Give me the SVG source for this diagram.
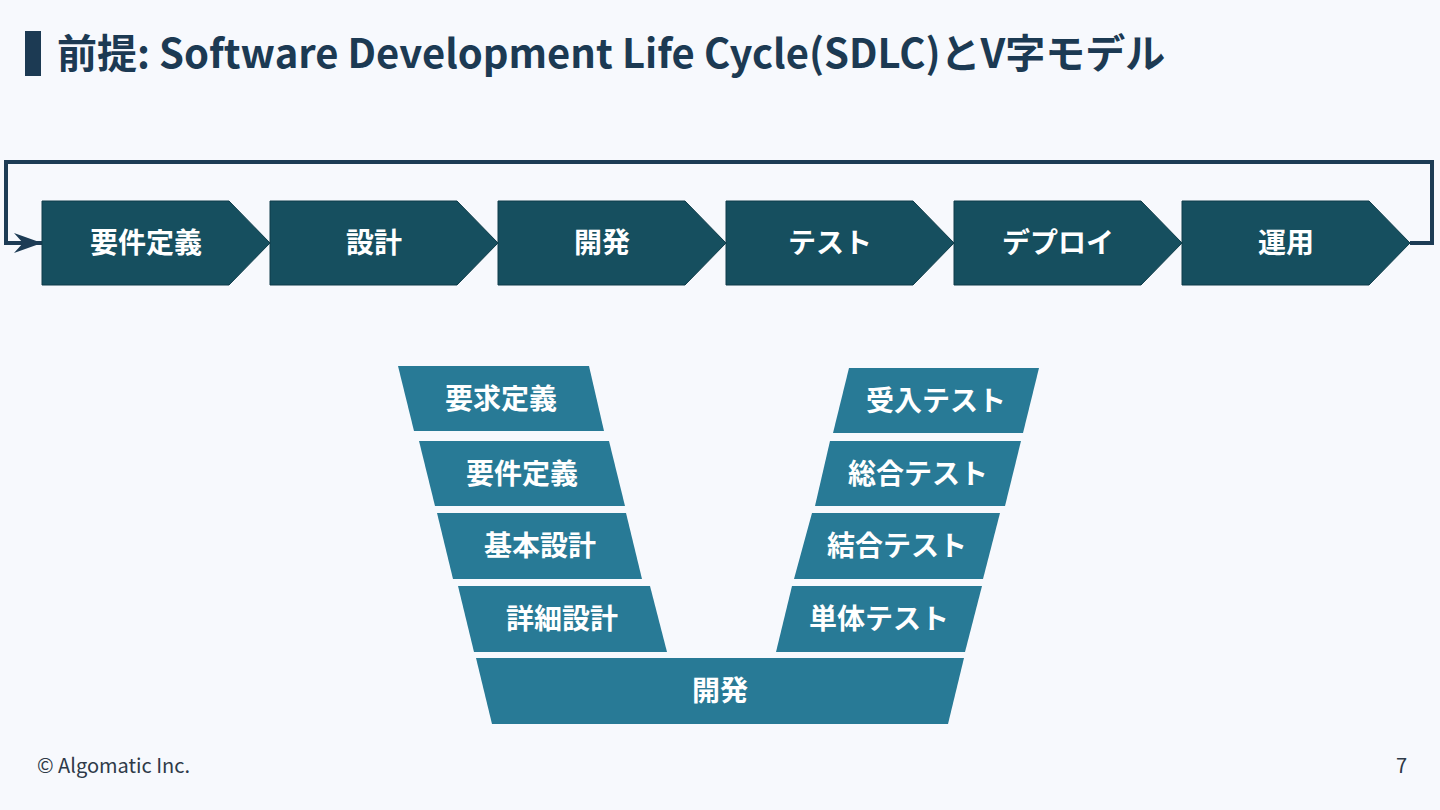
<svg xmlns="http://www.w3.org/2000/svg" width="1440" height="810" viewBox="0 0 1440 810">
<defs>
<style>
.bg{fill:#f7f9fd}
.title{font-family:"Noto Sans CJK JP","Noto Sans",sans-serif;font-weight:700;font-size:40px;fill:#1c3a53}
.chev{fill:#164f5f;stroke:#0f3d4a;stroke-width:1}
.blk{fill:#287a96}
.lbl{font-family:"Noto Sans CJK JP","Noto Sans",sans-serif;font-weight:700;font-size:28px;fill:#ffffff;text-anchor:middle}
.foot{font-family:"Noto Sans CJK JP","Noto Sans",sans-serif;font-size:20px;fill:#2e3a48}
.conn{fill:none;stroke:#1d3c55;stroke-width:4;stroke-linejoin:miter}
</style>
<marker id="arr" markerUnits="userSpaceOnUse" markerWidth="30" markerHeight="22" refX="28" refY="11" orient="auto">
<path d="M0,1 L28,11 L0,21 L9,11 Z" fill="#1d3c55"/>
</marker>
</defs>
<rect class="bg" x="0" y="0" width="1440" height="810"/>
<g id="title">
<rect x="25" y="31" width="16" height="45" fill="#1c3a53"/>
<text class="title" x="57" y="68">前提: Software Development Life Cycle(SDLC)とV字モデル</text>
</g>
<g id="connectors">
<path class="conn" d="M1410,243 H1432 V162 H6 V243 H42" marker-end="url(#arr)"/>
</g>
<g id="sdlc-1"><path class="chev" d="M42,201 H229 L270,243 L229,285 H42 Z"/><text class="lbl" x="146" y="253">要件定義</text></g>
<g id="sdlc-2"><path class="chev" d="M270,201 H457 L498,243 L457,285 H270 Z"/><text class="lbl" x="374" y="253">設計</text></g>
<g id="sdlc-3"><path class="chev" d="M498,201 H685 L726,243 L685,285 H498 Z"/><text class="lbl" x="602" y="253">開発</text></g>
<g id="sdlc-4"><path class="chev" d="M726,201 H913 L954,243 L913,285 H726 Z"/><text class="lbl" x="830" y="253">テスト</text></g>
<g id="sdlc-5"><path class="chev" d="M954,201 H1141 L1182,243 L1141,285 H954 Z"/><text class="lbl" x="1058" y="253">デプロイ</text></g>
<g id="sdlc-6"><path class="chev" d="M1182,201 H1369 L1410,243 L1369,285 H1182 Z"/><text class="lbl" x="1286" y="253">運用</text></g>
<g id="v-left-1"><polygon class="blk" points="398,366 589,366 604,431 414,431"/><text class="lbl" x="501" y="409">要求定義</text></g>
<g id="v-left-2"><polygon class="blk" points="419,441 609,441 625,506 435,506"/><text class="lbl" x="522" y="484">要件定義</text></g>
<g id="v-left-3"><polygon class="blk" points="437,513 626,513 642,579 453,579"/><text class="lbl" x="540" y="556">基本設計</text></g>
<g id="v-left-4"><polygon class="blk" points="458,586 650,586 667,652 474,652"/><text class="lbl" x="562" y="629">詳細設計</text></g>
<g id="v-right-1"><polygon class="blk" points="849,368 1039,368 1023,433 833,433"/><text class="lbl" x="936" y="411">受入テスト</text></g>
<g id="v-right-2"><polygon class="blk" points="830,441 1021,441 1005,506 815,506"/><text class="lbl" x="918" y="484">総合テスト</text></g>
<g id="v-right-3"><polygon class="blk" points="812,513 1000,513 983,579 794,579"/><text class="lbl" x="897" y="556">結合テスト</text></g>
<g id="v-right-4"><polygon class="blk" points="792,586 982,586 965,652 776,652"/><text class="lbl" x="879" y="629">単体テスト</text></g>
<g id="v-bottom"><polygon class="blk" points="476,658 964,658 948,724 492,724"/><text class="lbl" x="720" y="701">開発</text></g>
<g id="footer">
<text class="foot" x="37" y="773">© Algomatic Inc.</text>
<text class="foot" x="1407" y="773" text-anchor="end">7</text>
</g>
</svg>
